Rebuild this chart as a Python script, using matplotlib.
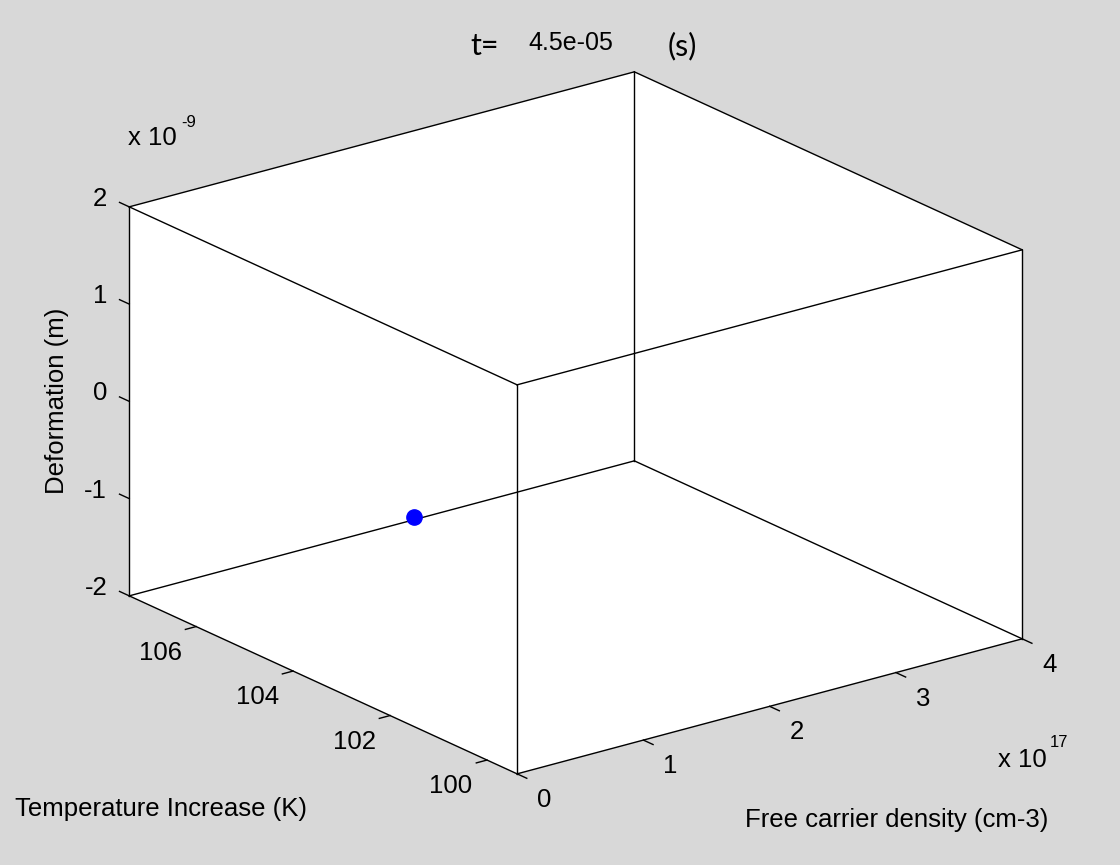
import numpy as np
import matplotlib
matplotlib.use("Agg")
import matplotlib.pyplot as plt
from matplotlib.transforms import offset_copy
from mpl_toolkits.mplot3d import proj3d
from mpl_toolkits.mplot3d.art3d import Poly3DCollection

# current state of the animation frame
t_now = 4.5e-05
density = [0.72e17]        # cm-3
temperature = [103.38]     # K
deformation = [-0.52e-9]   # m

x_scale = 1e17
z_scale = 1e-9
x_ticks = [0, 1, 2, 3, 4]
y_ticks = [100, 102, 104, 106]
z_ticks = [-2, -1, 0, 1, 2]
x_lim = (0, 4)
y_lim = (99.38, 107.38)
z_lim = (-2, 2)

plt.rcParams['font.family'] = ['Liberation Sans', 'DejaVu Sans']
bg = '#d8d8d8'

fig = plt.figure(figsize=(11.2, 8.65), dpi=100, facecolor=bg)
S = 900
cx, cy = 0.50317, 0.49711
ax = fig.add_axes([cx - S / 2 / 1120, cy - S / 2 / 865, S / 1120, S / 865],
                  projection='3d', proj_type='ortho')
ax.set_axis_off()
ax.patch.set_visible(False)
ax.computed_zorder = False
ax.set_xlim(x_lim)
ax.set_ylim(y_lim)
ax.set_zlim(z_lim)
ax.view_init(elev=20.5, azim=-127.35)
ax.set_box_aspect((635.4, 639.3, 415.3), zoom=1.0705)

x0, x1 = x_lim
y0, y1 = y_lim
z0, z1 = z_lim

# white back faces
faces = [
    [(x1, y0, z0), (x1, y1, z0), (x1, y1, z1), (x1, y0, z1)],
    [(x0, y1, z0), (x1, y1, z0), (x1, y1, z1), (x0, y1, z1)],
    [(x0, y0, z0), (x1, y0, z0), (x1, y1, z0), (x0, y1, z0)],
]
ax.add_collection3d(Poly3DCollection(faces, facecolor='white', edgecolor='none',
                                     zorder=0, clip_on=False))

# box edges
lk = dict(color='black', lw=1.0, zorder=1, clip_on=False)
for y in (y0, y1):
    for z in (z0, z1):
        ax.plot([x0, x1], [y, y], [z, z], **lk)
for x in (x0, x1):
    for z in (z0, z1):
        ax.plot([x, x], [y0, y1], [z, z], **lk)
for x in (x0, x1):
    for y in (y0, y1):
        ax.plot([x, x], [y, y], [z0, z1], **lk)

# tick marks
for v in x_ticks:
    ax.plot([v, v], [y0, y0 - 0.2], [z0, z0], **lk)
for v in y_ticks:
    ax.plot([x0, x0 - 0.085], [v, v], [z0, z0], **lk)
for v in z_ticks:
    ax.plot([x0, x0], [y1, y1 + 0.2], [v, v], **lk)

# the current point
ax.plot(np.array(density) / x_scale, temperature, np.array(deformation) / z_scale,
        'o', color='#0000ff', ms=11, zorder=3, clip_on=False)

# tick labels: project the tick positions, then place plain texts there
fig.canvas.draw()
M = ax.get_proj()
fs = 18.5


def tick_label(x, y, z, s, dx, dy, **kw):
    xs, ys, _ = proj3d.proj_transform(x, y, z, M)
    fig.text(xs, ys, s, fontsize=fs,
             transform=offset_copy(ax.transData, fig=fig, x=dx, y=dy, units='dots'), **kw)


for v in x_ticks:
    tick_label(v, y0, z0, str(v), 27, -26, ha='center', va='center')
for v in y_ticks:
    tick_label(x0, v, z0, str(v), -36, -26, ha='center', va='center')
for v in z_ticks:
    tick_label(x0, y1, v, str(v), -22, 8, ha='right', va='center')

# labels
fig.text(15 / 1120, 1 - 816 / 865, 'Temperature Increase (K)', fontsize=fs, ha='left', va='baseline')
fig.text(745 / 1120, 1 - 827 / 865, 'Free carrier density (cm-3)', fontsize=fs, ha='left', va='baseline')
fig.text(57 / 1120, 1 - 401 / 865, 'Deformation (m)', fontsize=fs, rotation=90, ha='center', va='center')
fig.text(128 / 1120, 1 - 145 / 865, 'x 10', fontsize=fs, ha='left', va='baseline')
fig.text(181 / 1120, 1 - 127 / 865, '-9', fontsize=12, ha='left', va='baseline')
fig.text(998 / 1120, 1 - 767 / 865, 'x 10', fontsize=fs, ha='left', va='baseline')
fig.text(1050 / 1120, 1 - 747 / 865, '17', fontsize=12, ha='left', va='baseline')

fig.text(470 / 1120, 1 - 55 / 865, 't=', fontsize=22, family=['Lato', 'DejaVu Sans'], ha='left', va='baseline')
fig.text(571 / 1120, 1 - 43 / 865, f'{t_now:.1e}', fontsize=18, ha='center', va='center')
fig.text(668 / 1120, 1 - 55 / 865, '(s)', fontsize=22, family=['Lato', 'DejaVu Sans'], ha='left', va='baseline')

fig.savefig('out.png', dpi=100, facecolor=bg)
